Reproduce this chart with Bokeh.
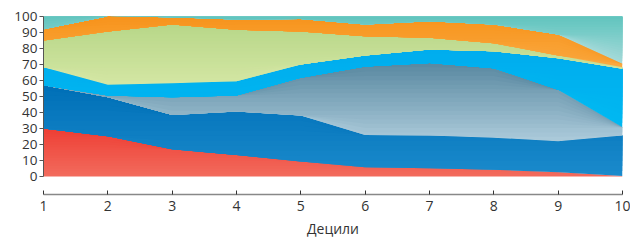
import numpy as np
from bokeh.plotting import figure
from bokeh.models import Range1d, FixedTicker
from bokeh.embed import file_html
from bokeh.resources import INLINE

# ---- data (share of each group per decile, %) ----
deciles = [1, 2, 3, 4, 5, 6, 7, 8, 9, 10]
s_red    = [30.0, 25.2, 17.0, 13.5, 9.4, 5.8, 5.2, 4.2, 2.7, 0.3]
s_dblue  = [27.0, 24.4, 21.5, 27.1, 28.7, 20.2, 20.4, 20.0, 19.4, 25.3]
s_grey   = [0.0, 1.0, 11.1, 10.0, 23.6, 42.8, 45.4, 43.5, 32.1, 5.2]
s_cyan   = [11.3, 6.8, 8.7, 9.0, 8.3, 6.8, 8.4, 10.6, 19.7, 36.5]
s_green  = [16.7, 33.3, 36.7, 32.1, 20.6, 12.1, 7.3, 5.0, 1.7, 1.0]
s_orange = [7.0, 9.4, 4.6, 6.4, 7.9, 7.3, 10.4, 11.7, 13.1, 2.1]
s_teal   = [8.0, 0.0, 0.4, 1.9, 1.5, 5.0, 2.9, 5.0, 11.3, 29.6]
y_ticks = [0, 10, 20, 30, 40, 50, 60, 70, 80, 90, 100]

series = [s_red, s_dblue, s_grey, s_cyan, s_green, s_orange, s_teal]
# (bottom colour, top colour) of each layer's vertical gradient
grad = [
    ("#F26A5C", "#EE4036"),
    ("#1A8ACB", "#0070B8"),
    ("#AAC9D9", "#5B8AA2"),
    ("#00B8F1", "#00ADEE"),
    ("#D3E6A3", "#B8D789"),
    ("#FAA83F", "#F7941D"),
    ("#A3D9D8", "#62C5BF"),
]


def hex2rgb(h):
    h = h.lstrip("#")
    return np.array([int(h[i:i + 2], 16) for i in (0, 2, 4)], dtype=float)


def mix(c0, c1, t):
    c = hex2rgb(c0) * (1 - t) + hex2rgb(c1) * t
    return "#%02x%02x%02x" % tuple(int(round(v)) for v in c)


p = figure(width=630, height=240, output_backend="svg", toolbar_location=None,
           x_range=Range1d(1, 10), y_range=Range1d(-11.25, 100),
           min_border_left=43, min_border_right=8, min_border_top=16,
           min_border_bottom=46)
p.outline_line_color = None
p.grid.visible = False
p.background_fill_color = "white"

x = np.array(deciles, dtype=float)
lower = np.zeros(len(x))
N = 18
for vals, (cb, ct) in zip(series, grad):
    upper = lower + np.array(vals, dtype=float)
    ymin, ymax = lower.min(), upper.max()
    # base fill
    p.varea(x=x, y1=lower, y2=upper, fill_color=cb)
    for k in range(1, N):
        a = ymin + (ymax - ymin) * k / N
        y1 = np.minimum(np.maximum(lower, a), upper)
        p.varea(x=x, y1=y1, y2=upper, fill_color=mix(cb, ct, k / (N - 1)))
    lower = upper

font = "Open Sans"
# y axis
ya = p.yaxis[0]
ya.ticker = FixedTicker(ticks=y_ticks)
ya.bounds = (0, 100)
ya.major_tick_in = 0
ya.major_tick_out = 4
ya.minor_tick_line_color = None
ya.axis_line_color = "#555555"
ya.major_tick_line_color = "#555555"
ya.major_label_text_font = font
ya.major_label_text_font_size = "13.5px"
ya.major_label_text_color = "#333333"
ya.major_label_standoff = 2

# x axis
xa = p.xaxis[0]
xa.ticker = FixedTicker(ticks=deciles)
xa.major_tick_in = 4
xa.major_tick_out = 0
xa.minor_tick_line_color = None
xa.axis_line_color = "#888888"
xa.axis_line_width = 1.5
xa.major_tick_line_color = "#333333"
xa.major_label_text_font = font
xa.major_label_text_font_size = "14px"
xa.major_label_text_color = "#333333"
xa.major_label_standoff = 6
xa.axis_label = "Децили"
xa.axis_label_text_font = font
xa.axis_label_text_font_style = "normal"
xa.axis_label_text_font_size = "14px"
xa.axis_label_text_color = "#333333"
xa.axis_label_standoff = 5

open("out.html", "w").write(file_html(p, INLINE))
